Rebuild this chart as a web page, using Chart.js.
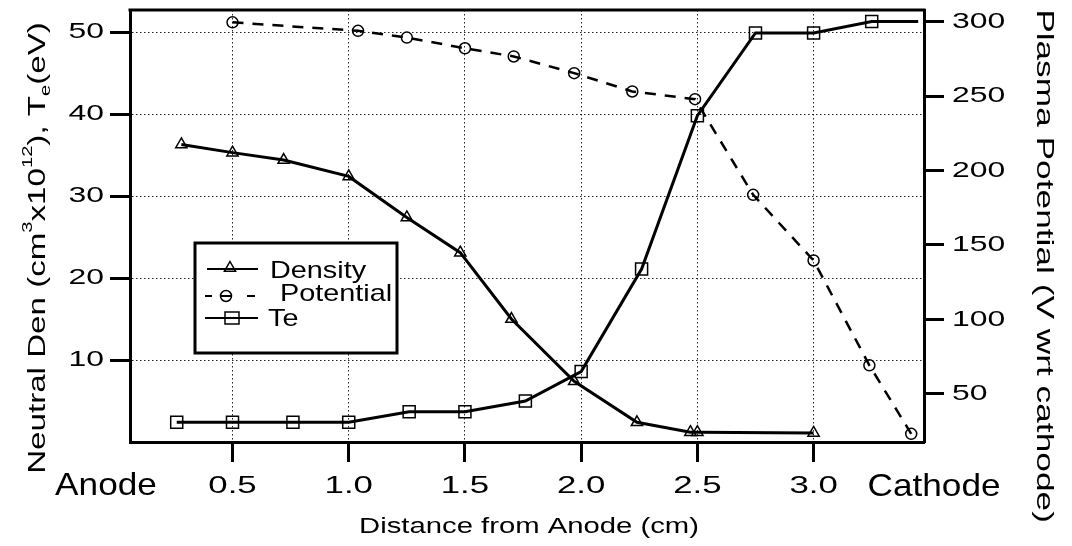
<!DOCTYPE html>
<html>
<head>
<meta charset="utf-8">
<title>Neutral density, Te and plasma potential vs distance</title>
<script src="https://cdn.jsdelivr.net/npm/chart.js@4.4.1/dist/chart.umd.min.js"></script>
<style>
    html, body { margin: 0; padding: 0; background: #fff; }
    canvas { display: block; }
</style>
</head>
<body>
<canvas id="profileChart" width="1072" height="546"></canvas>
<script>
// Measured profiles along the discharge gap
const xDensity = [0.28, 0.5, 0.72, 1.0, 1.25, 1.48, 1.7, 1.97, 2.24, 2.47, 2.5, 3.0];
const density  = [36.3, 35.3, 34.4, 32.4, 27.4, 23.1, 15.0, 7.4, 2.4, 1.2, 1.2, 1.1];

const xPotential = [0.5, 1.04, 1.25, 1.5, 1.71, 1.97, 2.22, 2.49, 2.74, 3.0, 3.24, 3.42];
const potential  = [299.5, 293.8, 289.3, 282.1, 276.6, 265.4, 253.1, 247.9, 183.7, 139.6, 69.2, 23.2];

// last Te entry only carries the line out to the cathode wall (no marker)
const xTe = [0.26, 0.5, 0.76, 1.0, 1.26, 1.5, 1.76, 2.0, 2.26, 2.5, 2.75, 3.0, 3.25, 3.45];
const te  = [2.4, 2.4, 2.4, 2.4, 3.7, 3.7, 5.0, 8.6, 21.1, 39.8, 49.9, 49.9, 51.3, 51.3];

// Axis ticks
const xTicks     = [0.5, 1.0, 1.5, 2.0, 2.5, 3.0];
const leftTicks  = [10, 20, 30, 40, 50];
const rightTicks = [50, 100, 150, 200, 250, 300];

const FONT = "'Liberation Sans', Arial, Helvetica, sans-serif";

// The lettering on this plot is a wide grotesque, so every string is
// drawn horizontally stretched. textStretch is the current factor.
let textStretch = 1.45;

const wideText = {
    id: "wideText",
    beforeInit(chart) {
        const ctx = chart.ctx;
        const plainFill = ctx.fillText.bind(ctx);
        ctx.fillText = function (text, x, y) {
            ctx.save();
            ctx.translate(x, y);
            ctx.scale(textStretch, 1);
            plainFill(text, 0, 0);
            ctx.restore();
        };
    }
};

// Draw a string made of runs (for super/subscripts), anchored at x,y
function drawRuns(ctx, runs, x, y, opts) {
    const stretch = opts.stretch || 1;
    const prev = textStretch;
    textStretch = stretch;
    ctx.save();
    ctx.translate(x, y);
    if (opts.angle) ctx.rotate(opts.angle);
    ctx.fillStyle = "#000";
    ctx.textAlign = "left";
    ctx.textBaseline = "alphabetic";
    let total = 0;
    runs.forEach(r => {
        ctx.font = `${r.size}px ${FONT}`;
        r.w = ctx.measureText(r.text).width * stretch;
        total += r.w;
    });
    let cx = opts.align === "center" ? -total / 2 : 0;
    runs.forEach(r => {
        ctx.font = `${r.size}px ${FONT}`;
        ctx.fillText(r.text, cx, r.dy || 0);
        cx += r.w;
    });
    ctx.restore();
    textStretch = prev;
}

// Axis titles, end labels and the top edge of the frame
const figureText = {
    id: "figureText",
    beforeDatasetsDraw(chart) {
        const ctx = chart.ctx;
        const a = chart.chartArea;
        ctx.save();
        ctx.strokeStyle = "#000";
        ctx.lineWidth = 3;
        ctx.beginPath();
        ctx.moveTo(a.left - 1.5, a.top);
        ctx.lineTo(a.right + 1.5, a.top);
        ctx.stroke();
        ctx.restore();
    },
    afterDraw(chart) {
        const ctx = chart.ctx;
        drawRuns(ctx, [{ text: "Anode", size: 32 }], 106, 495, { stretch: 1.1, align: "center" });
        drawRuns(ctx, [{ text: "Cathode", size: 32 }], 934, 496, { stretch: 1.1, align: "center" });
        drawRuns(ctx, [{ text: "Distance from Anode (cm)", size: 22 }], 529, 533, { stretch: 1.33, align: "center" });
        drawRuns(ctx, [{ text: "Plasma Potential (V wrt cathode)", size: 24 }], 1037, 266,
            { stretch: 1.47, align: "center", angle: Math.PI / 2 });
        drawRuns(ctx, [
            { text: "Neutral Den (cm", size: 23 },
            { text: "3", size: 14, dy: -13 },
            { text: "x10", size: 23 },
            { text: "12", size: 14, dy: -13 },
            { text: "), T", size: 23 },
            { text: "e", size: 14, dy: 5 },
            { text: "(eV)", size: 23 }
        ], 45, 248, { stretch: 1.44, align: "center", angle: -Math.PI / 2 });
    }
};

// Boxed legend inside the plot, line sample + open marker per series
function drawMarker(ctx, kind, x, y) {
    ctx.beginPath();
    if (kind === "triangle") {
        ctx.moveTo(x, y - 6.5);
        ctx.lineTo(x + 5.6, y + 3.3);
        ctx.lineTo(x - 5.6, y + 3.3);
        ctx.closePath();
    } else if (kind === "circle") {
        ctx.arc(x, y, 5.5, 0, Math.PI * 2);
    } else {
        ctx.rect(x - 7, y - 6, 14, 12);
    }
    ctx.stroke();
}

const boxLegend = {
    id: "boxLegend",
    afterDatasetsDraw(chart) {
        const ctx = chart.ctx;
        ctx.save();
        ctx.fillStyle = "#fff";
        ctx.fillRect(195, 243, 202, 110);
        ctx.strokeStyle = "#000";
        ctx.lineWidth = 3;
        ctx.strokeRect(195, 243, 202, 110);

        ctx.lineWidth = 2;
        // Density
        ctx.beginPath(); ctx.moveTo(207, 269); ctx.lineTo(258, 269); ctx.stroke();
        ctx.lineWidth = 1.5;
        drawMarker(ctx, "triangle", 230, 268);
        // Potential
        ctx.lineWidth = 2;
        ctx.beginPath();
        ctx.moveTo(205, 296); ctx.lineTo(212, 296);
        ctx.moveTo(220, 296); ctx.lineTo(231, 296);
        ctx.moveTo(247, 296); ctx.lineTo(255, 296);
        ctx.stroke();
        ctx.lineWidth = 1.5;
        drawMarker(ctx, "circle", 226, 296);
        // Te
        ctx.lineWidth = 2;
        ctx.beginPath(); ctx.moveTo(205, 318); ctx.lineTo(258, 318); ctx.stroke();
        ctx.lineWidth = 1.5;
        drawMarker(ctx, "rect", 232, 318);
        ctx.restore();

        const labels = chart.data.datasets.map(d => d.label);
        drawRuns(ctx, [{ text: labels[0], size: 24 }], 270, 278, { stretch: 1.2 });
        drawRuns(ctx, [{ text: labels[1], size: 24 }], 280, 301, { stretch: 1.2 });
        drawRuns(ctx, [{ text: labels[2], size: 24 }], 268, 326, { stretch: 1.2 });
    }
};

function toPoints(xs, ys) {
    return xs.map((x, i) => ({ x: x, y: ys[i] }));
}

// keep the plot frame fixed: no extra room reserved for end labels
function fixedBox(size) {
    return s => {
        if (s.isHorizontal()) s.height = size; else s.width = size;
        s.paddingTop = 0;
        s.paddingBottom = 0;
        s.paddingLeft = 0;
        s.paddingRight = 0;
    };
}

const gridDots = { color: "#222", lineWidth: 1, tickLength: 20, tickWidth: 3, tickColor: "#000" };
const axisBorder = { color: "#000", width: 3, dash: [1.5, 2.5] };

const ctx = document.getElementById("profileChart").getContext("2d");
new Chart(ctx, {
    type: "line",
    data: {
        datasets: [
            {
                label: "Density",
                data: toPoints(xDensity, density),
                yAxisID: "y",
                borderColor: "#000",
                borderWidth: 3,
                pointStyle: "triangle",
                pointRadius: 6.5,
                pointBorderWidth: 1.5,
                pointBackgroundColor: "rgba(0,0,0,0)",
                pointBorderColor: "#000",
                tension: 0
            },
            {
                label: "Potential",
                data: toPoints(xPotential, potential),
                yAxisID: "y2",
                borderColor: "#000",
                borderWidth: 2.5,
                borderDash: [11, 9],
                pointStyle: "circle",
                pointRadius: 5.5,
                pointBorderWidth: 1.5,
                pointBackgroundColor: "rgba(0,0,0,0)",
                pointBorderColor: "#000",
                tension: 0
            },
            {
                label: "Te",
                data: toPoints(xTe, te),
                yAxisID: "y",
                borderColor: "#000",
                borderWidth: 3,
                pointStyle: "rect",
                pointRadius: xTe.map((_, i) => (i === xTe.length - 1 ? 0 : 8.5)),
                pointBorderWidth: 1.5,
                pointBackgroundColor: "rgba(0,0,0,0)",
                pointBorderColor: "#000",
                tension: 0
            }
        ]
    },
    options: {
        responsive: false,
        animation: false,
        layout: { padding: { top: 8, left: 0, right: 0, bottom: 0 } },
        plugins: {
            legend: { display: false },
            tooltip: { enabled: false }
        },
        scales: {
            x: {
                type: "linear",
                position: "bottom",
                min: 0.059,
                max: 3.475,
                afterBuildTicks: s => { s.ticks = xTicks.map(v => ({ value: v })); },
                afterFit: fixedBox(104),
                ticks: {
                    callback: v => v.toFixed(1),
                    font: { size: 24, family: FONT },
                    color: "#000",
                    padding: 10,
                    maxRotation: 0,
                    autoSkip: false
                },
                grid: gridDots,
                border: axisBorder
            },
            y: {
                type: "linear",
                position: "left",
                min: 0,
                max: 52.7,
                afterBuildTicks: s => { s.ticks = leftTicks.map(v => ({ value: v })); },
                afterFit: fixedBox(130),
                ticks: {
                    callback: v => String(v),
                    font: { size: 22, family: FONT },
                    color: "#000",
                    padding: 6
                },
                grid: gridDots,
                border: axisBorder
            },
            y2: {
                type: "linear",
                position: "right",
                min: 17.7,
                max: 307.8,
                afterBuildTicks: s => { s.ticks = rightTicks.map(v => ({ value: v })); },
                afterFit: fixedBox(148),
                ticks: {
                    callback: v => String(v),
                    font: { size: 22, family: FONT },
                    color: "#000",
                    padding: 8
                },
                grid: { drawOnChartArea: false, tickLength: 20, tickWidth: 3, tickColor: "#000" },
                border: { color: "#000", width: 3 }
            }
        }
    },
    plugins: [wideText, figureText, boxLegend]
});
</script>
</body>
</html>
